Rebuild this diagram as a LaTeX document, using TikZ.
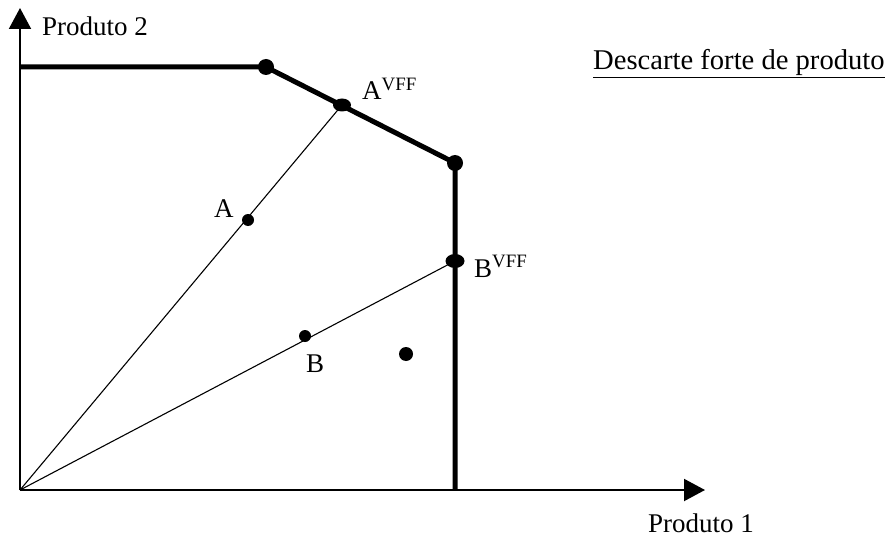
\documentclass[tikz,border=0pt]{standalone}
\usepackage{fontspec}
\setmainfont{Liberation Serif}
\usetikzlibrary{arrows.meta}
\begin{document}
\begin{tikzpicture}[x=1pt,y=-1pt,
  lbl/.style={inner sep=0pt,font=\fontsize{27}{30}\selectfont},
  axis/.style={line width=2pt,-{Triangle[length=21pt,width=22pt]}},
  frontier/.style={line width=5pt},
  ray/.style={line width=1.1pt},
  bigdot/.style={fill=black},
]
\useasboundingbox (0,0) rectangle (893,548);
\coordinate (O) at (20,490);
\coordinate (Ytip) at (20,8);
\coordinate (Xtip) at (705,490);
\coordinate (Y0) at (20,67);
\coordinate (K1) at (266,67);
\coordinate (K2) at (455,163);
\coordinate (AV) at (342,105);
\coordinate (BV) at (455,261);
\coordinate (Xb) at (455,490);
\coordinate (A) at (248,220);
\coordinate (B) at (305,336);
\coordinate (C) at (406,354);
% axes
\draw[axis] (O) -- (Ytip);
\draw[axis] (O) -- (Xtip);
% rays
\draw[ray] (O) -- (AV);
\draw[ray] (O) -- (BV);
% frontier
\draw[frontier] (Y0) -- (K1) -- (K2) -- (Xb);
% dots
\fill[bigdot] (K1) circle (8);
\fill[bigdot] (K2) circle (8);
\fill[bigdot] (AV) ellipse (9 and 6.5);
\fill[bigdot] (BV) ellipse (9.5 and 7);
\fill[bigdot] (A) circle (6);
\fill[bigdot] (B) circle (6);
\fill[bigdot] (C) circle (7);
% labels
\node[lbl,anchor=base west] (lp2) at (42,36) {Produto 2};
\node[lbl,anchor=base west] (lp1) at (648,532) {Produto 1};
\node[lbl,anchor=base west,font=\fontsize{28.6}{31}\selectfont] (ltitle) at (593,70) {\underline{Descarte forte de produto}};
\node[lbl,anchor=base west] (lAV) at (362,100) {A\textsuperscript{VFF}};
\node[lbl,anchor=base west] (lBV) at (474,277) {B\textsuperscript{VFF}};
\node[lbl,anchor=base west] (lA) at (214,217) {A};
\node[lbl,anchor=base west] (lB) at (306,372) {B};
\end{tikzpicture}
\end{document}
